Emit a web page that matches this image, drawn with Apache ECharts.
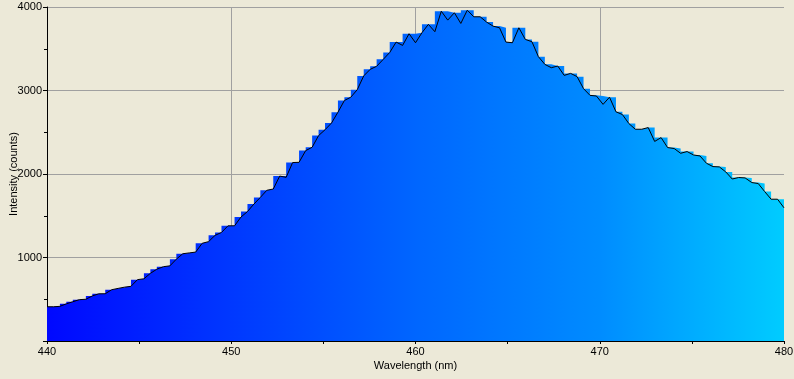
<!DOCTYPE html>
<html>
<head>
<meta charset="utf-8">
<script src="https://cdn.jsdelivr.net/npm/echarts@6/dist/echarts.min.js"></script>
<style>
  html, body { margin: 0; padding: 0; background: #ece9d8; }
  #chart { width: 794px; height: 379px; }
</style>
</head>
<body>
<div id="chart"></div>
<script>
// spectrometer sample wavelengths (nm)
var wavelengths = [
  440.00, 440.35, 440.70, 441.05, 441.40, 441.75, 442.11, 442.46, 442.81, 443.16,
  443.51, 443.86, 444.21, 444.56, 444.91, 445.26, 445.61, 445.96, 446.32, 446.67,
  447.02, 447.37, 447.72, 448.07, 448.42, 448.77, 449.12, 449.47, 449.82, 450.18,
  450.53, 450.88, 451.23, 451.58, 451.93, 452.28, 452.63, 452.98, 453.33, 453.68,
  454.04, 454.39, 454.74, 455.09, 455.44, 455.79, 456.14, 456.49, 456.84, 457.19,
  457.54, 457.89, 458.25, 458.60, 458.95, 459.30, 459.65, 460.00, 460.35, 460.70,
  461.05, 461.40, 461.75, 462.11, 462.46, 462.81, 463.16, 463.51, 463.86, 464.21,
  464.56, 464.91, 465.26, 465.61, 465.96, 466.32, 466.67, 467.02, 467.37, 467.72,
  468.07, 468.42, 468.77, 469.12, 469.47, 469.82, 470.18, 470.53, 470.88, 471.23,
  471.58, 471.93, 472.28, 472.63, 472.98, 473.33, 473.68, 474.04, 474.39, 474.74,
  475.09, 475.44, 475.79, 476.14, 476.49, 476.84, 477.19, 477.54, 477.89, 478.25,
  478.60, 478.95, 479.30, 479.65, 480.00
];

// black trace (counts)
var traceCounts = [
  410, 410, 415, 445, 470, 495, 500, 540, 565, 566,
  614, 630, 645, 655, 735, 745, 810, 860, 890, 900,
  980, 1045, 1055, 1065, 1170, 1190, 1265, 1300, 1379, 1380,
  1485, 1550, 1640, 1720, 1805, 1820, 1975, 1960, 2137, 2140,
  2280, 2320, 2460, 2530, 2610, 2740, 2880, 2920, 3010, 3175,
  3253, 3290, 3373, 3455, 3580, 3540, 3680, 3572, 3692, 3792,
  3704, 3950, 3843, 3931, 3803, 3962, 3883, 3883, 3819, 3771,
  3751, 3580, 3572, 3751, 3612, 3584, 3405, 3313, 3273, 3293,
  3181, 3205, 3166, 3022, 2942, 2934, 2834, 2920, 2745, 2712,
  2604, 2536, 2536, 2556, 2390, 2436, 2317, 2305, 2248, 2269,
  2228, 2216, 2129, 2089, 2085, 2025, 1940, 1958, 1953, 1898,
  1886, 1790, 1698, 1698, 1595
];

// coloured stepped fill (counts)
var fillCounts = [
  410, 410, 415, 445, 470, 495, 500, 540, 565, 566,
  614, 630, 645, 655, 735, 745, 810, 860, 890, 900,
  980, 1045, 1055, 1065, 1170, 1190, 1265, 1300, 1379, 1380,
  1485, 1550, 1640, 1720, 1805, 1820, 1975, 1975, 2137, 2140,
  2280, 2320, 2460, 2530, 2610, 2740, 2880, 2920, 3010, 3175,
  3253, 3290, 3373, 3455, 3580, 3580, 3680, 3680, 3692, 3792,
  3792, 3950, 3950, 3931, 3931, 3962, 3962, 3883, 3883, 3819,
  3771, 3751, 3580, 3751, 3751, 3612, 3584, 3405, 3313, 3293,
  3293, 3205, 3205, 3166, 3022, 2942, 2934, 2920, 2920, 2745,
  2712, 2604, 2536, 2556, 2556, 2436, 2436, 2317, 2305, 2269,
  2269, 2228, 2216, 2129, 2089, 2085, 2025, 1958, 1958, 1953,
  1898, 1886, 1790, 1698, 1698
];

var yLabels = [1000, 2000, 3000, 4000];

var tracePts = [];
var fillPts = [];
for (var i = 0; i < wavelengths.length; i++) {
    tracePts.push([wavelengths[i], traceCounts[i]]);
    fillPts.push([wavelengths[i], fillCounts[i]]);
}

var myChart = echarts.init(document.getElementById('chart'));

var fontFamily = 'Liberation Sans, Arial, sans-serif';

var option = {
    backgroundColor: '#ece9d8',
    animation: false,
    grid: { left: 47, right: 10, top: 7, bottom: 38, outerBoundsMode: 'none', containLabel: false },
    xAxis: {
        type: 'value',
        min: 440,
        max: 480,
        interval: 10,
        name: 'Wavelength (nm)',
        nameLocation: 'middle',
        nameGap: 19,
        nameMoveOverlap: false,
        nameTextStyle: { color: '#000', fontFamily: fontFamily, fontSize: 11 },
        axisLine: { show: true, onZero: false, lineStyle: { color: '#000', width: 1 } },
        axisTick: { show: true, length: 3, lineStyle: { color: '#000' } },
        minorTick: { show: true, splitNumber: 2, length: 3, lineStyle: { color: '#000' } },
        axisLabel: { color: '#000', fontFamily: fontFamily, fontSize: 11, margin: 5 },
        splitLine: { show: true, showMinLine: false, showMaxLine: false, lineStyle: { color: '#a0a0a0', width: 1 } }
    },
    yAxis: {
        type: 'value',
        min: 0,
        max: 4000,
        interval: 1000,
        name: 'Intensity (counts)',
        nameLocation: 'middle',
        nameGap: 28,
        nameMoveOverlap: false,
        nameTextStyle: { color: '#000', fontFamily: fontFamily, fontSize: 11 },
        axisLine: { show: true, lineStyle: { color: '#000', width: 1 } },
        axisTick: { show: true, length: 4, lineStyle: { color: '#000' } },
        minorTick: { show: true, splitNumber: 2, length: 3, lineStyle: { color: '#000' } },
        axisLabel: {
            color: '#000', fontFamily: fontFamily, fontSize: 11, margin: 5,
            formatter: function (v) { return yLabels.indexOf(v) >= 0 ? String(v) : ''; }
        },
        splitLine: { show: true, showMinLine: false, lineStyle: { color: '#a0a0a0', width: 1 } }
    },
    series: [
        {
            name: 'fill',
            type: 'line',
            step: 'start',
            symbol: 'none',
            data: fillPts,
            lineStyle: { width: 0, opacity: 0 },
            areaStyle: {
                opacity: 1,
                color: new echarts.graphic.LinearGradient(0, 0, 1, 0, [
                    { offset: 0, color: '#0008ff' },
                    { offset: 0.25, color: '#0038ff' },
                    { offset: 0.5, color: '#0066ff' },
                    { offset: 0.75, color: '#008cff' },
                    { offset: 1, color: '#00ccff' }
                ])
            },
            z: 2
        },
        {
            name: 'trace',
            type: 'line',
            symbol: 'none',
            data: tracePts,
            lineStyle: { color: '#000', width: 1 },
            z: 3
        }
    ]
};

myChart.setOption(option);
</script>
</body>
</html>
